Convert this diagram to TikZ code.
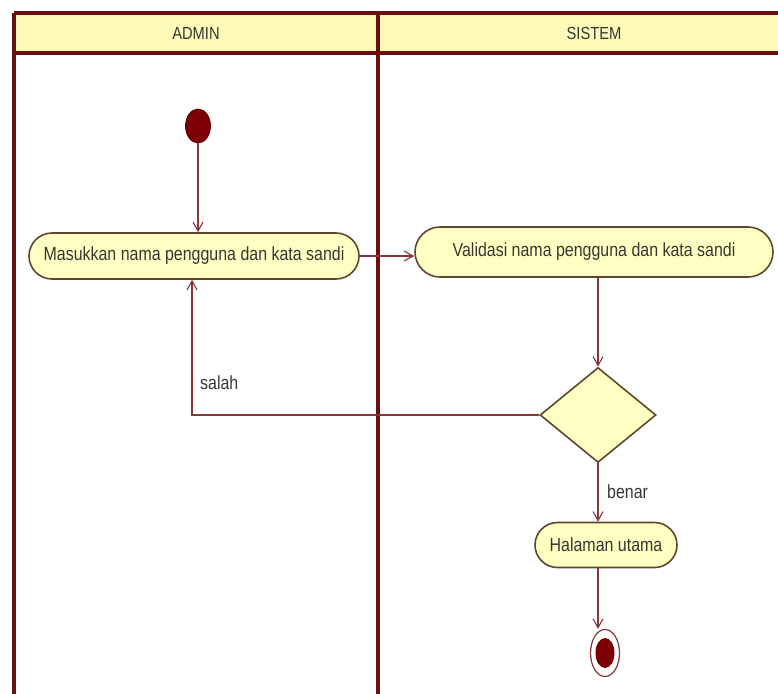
\documentclass[tikz,border=0pt]{standalone}
\usepackage{fontspec}
\setmainfont[FakeStretch=0.84]{Liberation Sans}
\usetikzlibrary{arrows.meta,shapes.geometric,shapes.misc}
\definecolor{lane}{RGB}{105,15,15}
\definecolor{fillY}{RGB}{255,255,196}
\definecolor{hdrY}{RGB}{255,250,185}
\definecolor{nodeB}{RGB}{95,70,45}
\definecolor{conn}{RGB}{135,55,60}
\definecolor{txt}{RGB}{55,55,50}
\definecolor{dot}{RGB}{125,0,5}
\tikzset{
  act/.style={draw=nodeB, line width=1.6pt, fill=fillY, rounded rectangle, minimum height=#1, inner xsep=6pt, text=txt, font=\fontsize{19}{22}\selectfont},
  act/.default=46pt,
  conn/.style={draw=conn, line width=1.2pt},
  arr/.style={conn, -{Straight Barb[length=9pt,width=10pt,line width=1.1pt]}},
  lbl/.style={text=txt, font=\fontsize{19}{22}\selectfont, inner sep=0pt},
  hdr/.style={text=txt, font=\fontsize{17.5}{20}\selectfont, inner sep=0pt},
  lanel/.style={draw=lane, line width=3.2pt}
}
\begin{document}
\begin{tikzpicture}[x=1pt,y=-1pt]
\useasboundingbox (0,0) rectangle (778,693);
\clip (0,0) rectangle (778,693);
\fill[white] (0,0) rectangle (778,693);
% swimlane header
\fill[hdrY] (14,13) rectangle (820,53);
\draw[lanel] (14,13) -- (820,13);
\draw[lanel] (14,53) -- (820,53);
\draw[lanel] (14,13) -- (14,700);
\draw[lanel] (378,13) -- (378,700);
\node[hdr] (hA) at (196,33) {ADMIN};
\node[hdr] (hS) at (594,33) {SISTEM};
% nodes
\node[ellipse, fill=dot, draw=dot!70!black, line width=0.8pt, minimum width=25pt, minimum height=34pt, inner sep=0pt] (start) at (198,126) {};
\node[act, minimum width=342pt] (mas) at (194,256) {Masukkan nama pengguna dan kata sandi};
\node[act=50pt, minimum width=370pt] (val) at (594,252) {Validasi nama pengguna dan kata sandi};
\node[diamond, draw=nodeB, line width=1.6pt, fill=fillY, minimum width=116pt, minimum height=95pt, inner sep=0pt, aspect=1.22] (dec) at (598,415) {};
\node[act=45pt, minimum width=154pt] (hal) at (606,545) {Halaman utama};
\node[ellipse, draw=conn, line width=1.2pt, fill=white, minimum width=29pt, minimum height=47pt, inner sep=0pt] (end) at (605,653) {};
\node[ellipse, fill=dot, minimum width=19pt, minimum height=30pt, inner sep=0pt] (endin) at (end) {};
% connectors
\coordinate (lp) at (192,415);
\draw[arr] (start.south) -- (start.south |- mas.north);
\draw[arr] (mas.east |- 0,256) -- (val.west |- 0,256);
\draw[arr] (val.south -| dec.north) -- (dec.north);
\draw[arr] (dec.west) -- (lp) -- (lp |- mas.south);
\draw[arr] (dec.south) -- (dec.south |- hal.north);
\draw[arr] (hal.south -| dec.south) -- (end.north -| dec.south);
% labels
\node[lbl, anchor=west] (salah) at (200,383) {salah};
\node[lbl, anchor=west] (benar) at (607,492) {benar};
\end{tikzpicture}
\end{document}
